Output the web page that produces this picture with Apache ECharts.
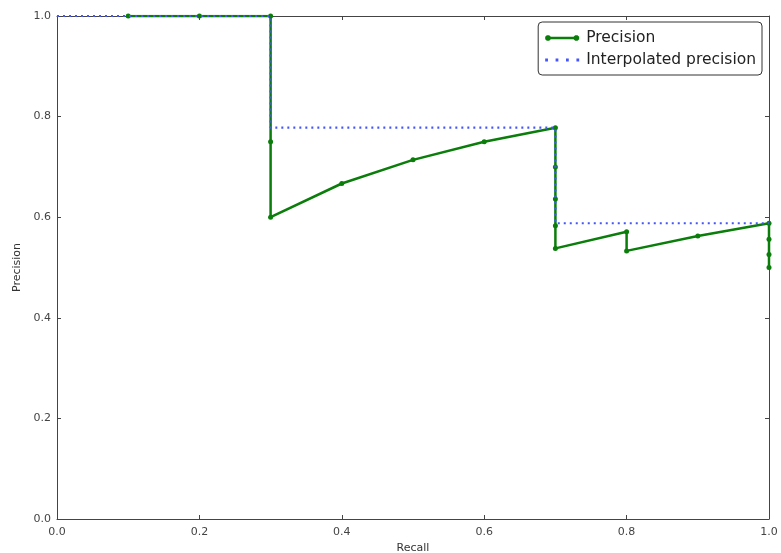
<!DOCTYPE html>
<html><head><meta charset="utf-8">
<script src="https://cdn.jsdelivr.net/npm/echarts@6/dist/echarts.min.js"></script>
<style>html,body{margin:0;padding:0;background:#fff}#c{width:781px;height:553px}</style>
</head><body><div id="c"></div>
<script>
var recall = [0.1,0.2,0.3,0.3,0.3,0.4,0.5,0.6,0.7,0.7,0.7,0.7,0.7,0.8,0.8,0.9,1.0,1.0,1.0,1.0];
var precision = [1.0,1.0,1.0,0.75,0.6,0.667,0.714,0.75,0.778,0.7,0.636,0.583,0.538,0.571,0.533,0.5625,0.588,0.556,0.526,0.5];
var interpRecall = [0.0,0.1,0.2,0.3,0.3,0.7,0.7,1.0];
var interpPrecision = [1.0,1.0,1.0,1.0,0.778,0.778,0.588,0.588];
var ticks = [0.0,0.2,0.4,0.6,0.8,1.0];

function pairs(a,b){return a.map(function(v,i){return [v,b[i]];});}
var font = 'DejaVu Sans';
var chart = echarts.init(document.getElementById('c'));
var fmt = function(v){return v.toFixed(1);};
function ax(extra){
  return Object.assign({
    type:'value', min:ticks[0], max:ticks[ticks.length-1], interval:ticks[1]-ticks[0],
    axisLine:{show:true,onZero:false,lineStyle:{color:'#444',width:1}},
    axisTick:{show:true,inside:true,length:4,lineStyle:{color:'#444'}},
    splitLine:{show:false},
    axisLabel:{color:'#444',fontFamily:font,fontSize:11,formatter:fmt}
  },extra);
}
function oct(cx,cy,r){
  var s='';
  for(var i=0;i<8;i++){var a=Math.PI*2*i/8+Math.PI/8;s+=(i?' L':'M')+(cx+r*Math.cos(a)).toFixed(2)+','+(cy+r*Math.sin(a)).toFixed(2);}
  return s+' Z ';
}
var precIcon = 'path://'+oct(3,5,3)+oct(31,5,3)+'M3,3.7 L31,3.7 L31,6.3 L3,6.3 Z';
var dotIcon = 'path://M1,3.8 h2.4 v2.4 h-2.4 Z M10,3.8 h2.4 v2.4 h-2.4 Z M19,3.8 h2.4 v2.4 h-2.4 Z M28,3.8 h2.4 v2.4 h-2.4 Z';
chart.setOption({
  animation:false,
  grid:{left:57,right:12,top:16,bottom:34,containLabel:false,outerBoundsMode:'none'},
  legend:{
    right:19, top:22, orient:'vertical', itemGap:6,
    padding:[8,6,7,7],
    borderColor:'#333', borderWidth:1, borderRadius:4,
    backgroundColor:'#fff',
    itemWidth:34, itemHeight:10,
    textStyle:{fontFamily:font,fontSize:15.5,color:'#222',padding:[0,0,0,2]},
    data:[{name:'Precision',icon:precIcon},{name:'Interpolated precision',icon:dotIcon}]
  },
  xAxis:[
    ax({position:'bottom',name:'Recall',nameLocation:'middle',nameGap:22,nameTextStyle:{fontFamily:font,fontSize:11,color:'#333'},axisLabel:{color:'#444',fontFamily:font,fontSize:11,margin:8,formatter:fmt}}),
    ax({position:'top',axisLabel:{show:false}})
  ],
  yAxis:[
    ax({position:'left',name:'Precision',nameLocation:'middle',nameGap:31,nameTextStyle:{fontFamily:font,fontSize:11,color:'#333'},axisLabel:{color:'#444',fontFamily:font,fontSize:11,margin:6,formatter:fmt}}),
    ax({position:'right',axisLabel:{show:false}})
  ],
  series:[
    {name:'Precision',type:'line',data:pairs(recall,precision),
     lineStyle:{color:'#0a7d0a',width:2.5},itemStyle:{color:'#0a7d0a'},color:'#0a7d0a',
     symbol:'circle',symbolSize:5,showSymbol:true,z:2},
    {name:'Interpolated precision',type:'line',data:pairs(interpRecall,interpPrecision),
     lineStyle:{color:'#4455ff',width:2.2,type:[2,4]},itemStyle:{color:'#4455ff'},color:'#4455ff',
     symbol:'none',z:3}
  ]
});
</script></body></html>
